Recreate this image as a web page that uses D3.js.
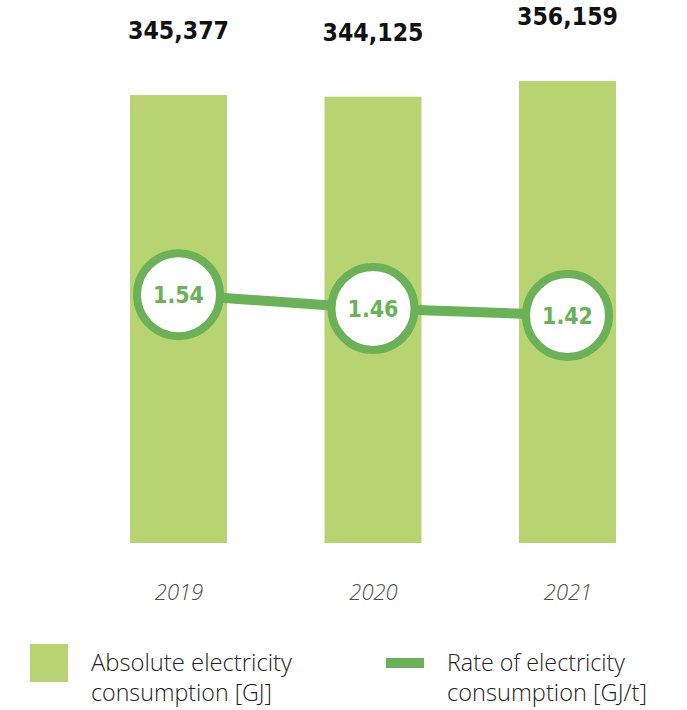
<!DOCTYPE html>
<html>
<head>
<meta charset="utf-8">
<script src="https://cdn.jsdelivr.net/npm/d3@7"></script>
<style>
  html, body { margin: 0; padding: 0; background: #fff; }
  svg { display: block; }
</style>
</head>
<body>
<svg id="chart" width="687" height="710"></svg>
<script>
// ---- data ----
const years = ["2019", "2020", "2021"];
const absoluteGJ = [345377, 344125, 356159];
const rateGJt = [1.54, 1.46, 1.42];
const absoluteLabels = ["345,377", "344,125", "356,159"];
const rateLabels = ["1.54", "1.46", "1.42"];
const legendItems = [
  ["Absolute electricity", "consumption [GJ]"],
  ["Rate of electricity", "consumption [GJ/t]"]
];

const barColor = "#b8d472";
const lineColor = "#6ab157";

const svg = d3.select("#chart");

const x = d3.scalePoint().domain(years).range([178.5, 567.5]);
const barW = 97;
const yBar = d3.scaleLinear().domain([0, 400000]).range([543, 24.2]);
const yRate = d3.scaleLinear().domain([1.42, 1.54]).range([315.4, 294.7]);

// bars
svg.append("g").selectAll("rect")
  .data(years)
  .join("rect")
  .attr("x", d => x(d) - barW / 2)
  .attr("width", barW)
  .attr("y", (d, i) => yBar(absoluteGJ[i]))
  .attr("height", (d, i) => yBar(0) - yBar(absoluteGJ[i]))
  .attr("fill", barColor);

// value labels above bars
svg.append("g").selectAll("text")
  .data(years)
  .join("text")
  .attr("x", d => x(d))
  .attr("y", (d, i) => yBar(absoluteGJ[i]) - 56)
  .attr("text-anchor", "middle")
  .attr("font-family", "DejaVu Sans")
  .attr("font-weight", "bold")
  .attr("font-size", 24)
  .attr("textLength", 101)
  .attr("lengthAdjust", "spacingAndGlyphs")
  .attr("fill", "#111")
  .text((d, i) => absoluteLabels[i]);

// line
const line = d3.line()
  .x(d => x(d))
  .y((d, i) => yRate(rateGJt[i]));
svg.append("path")
  .datum(years)
  .attr("d", line)
  .attr("fill", "none")
  .attr("stroke", lineColor)
  .attr("stroke-width", 10);

// circles
const circ = svg.append("g").selectAll("g")
  .data(years)
  .join("g")
  .attr("transform", (d, i) => `translate(${x(d)},${yRate(rateGJt[i])})`);
circ.append("circle")
  .attr("r", 41.5)
  .attr("fill", "#fff")
  .attr("stroke", lineColor)
  .attr("stroke-width", 8);
circ.append("text")
  .attr("text-anchor", "middle")
  .attr("y", 8.5)
  .attr("font-family", "DejaVu Sans")
  .attr("font-weight", "bold")
  .attr("font-size", 23)
  .attr("textLength", 51)
  .attr("lengthAdjust", "spacingAndGlyphs")
  .attr("fill", lineColor)
  .text((d, i) => rateLabels[i]);

// x axis labels
const xAxis = d3.axisBottom(x).tickSize(0).tickPadding(0);
const gx = svg.append("g").attr("transform", "translate(0,584)").call(xAxis);
gx.select(".domain").remove();
gx.selectAll("text")
  .attr("font-family", "Open Sans")
  .attr("font-style", "italic")
  .attr("font-weight", 300)
  .attr("font-size", 22)
  .attr("fill", "#4d4d4d");

// legend
const lg = svg.append("g").attr("font-family", "Open Sans").attr("font-weight", 300).attr("font-size", 23).attr("fill", "#222");
lg.append("rect").attr("x", 30).attr("y", 644).attr("width", 38).attr("height", 38).attr("fill", barColor);
lg.append("rect").attr("x", 386).attr("y", 658).attr("width", 38).attr("height", 10).attr("fill", lineColor);
const legendX = [91, 447];
const legendW = [[201, 181], [178, 200]];
legendItems.forEach((lines, k) => {
  lines.forEach((t, j) => {
    lg.append("text")
      .attr("x", legendX[k])
      .attr("y", 671 + j * 30)
      .attr("textLength", legendW[k][j])
      .attr("lengthAdjust", "spacingAndGlyphs")
      .text(t);
  });
});
</script>
</body>
</html>
